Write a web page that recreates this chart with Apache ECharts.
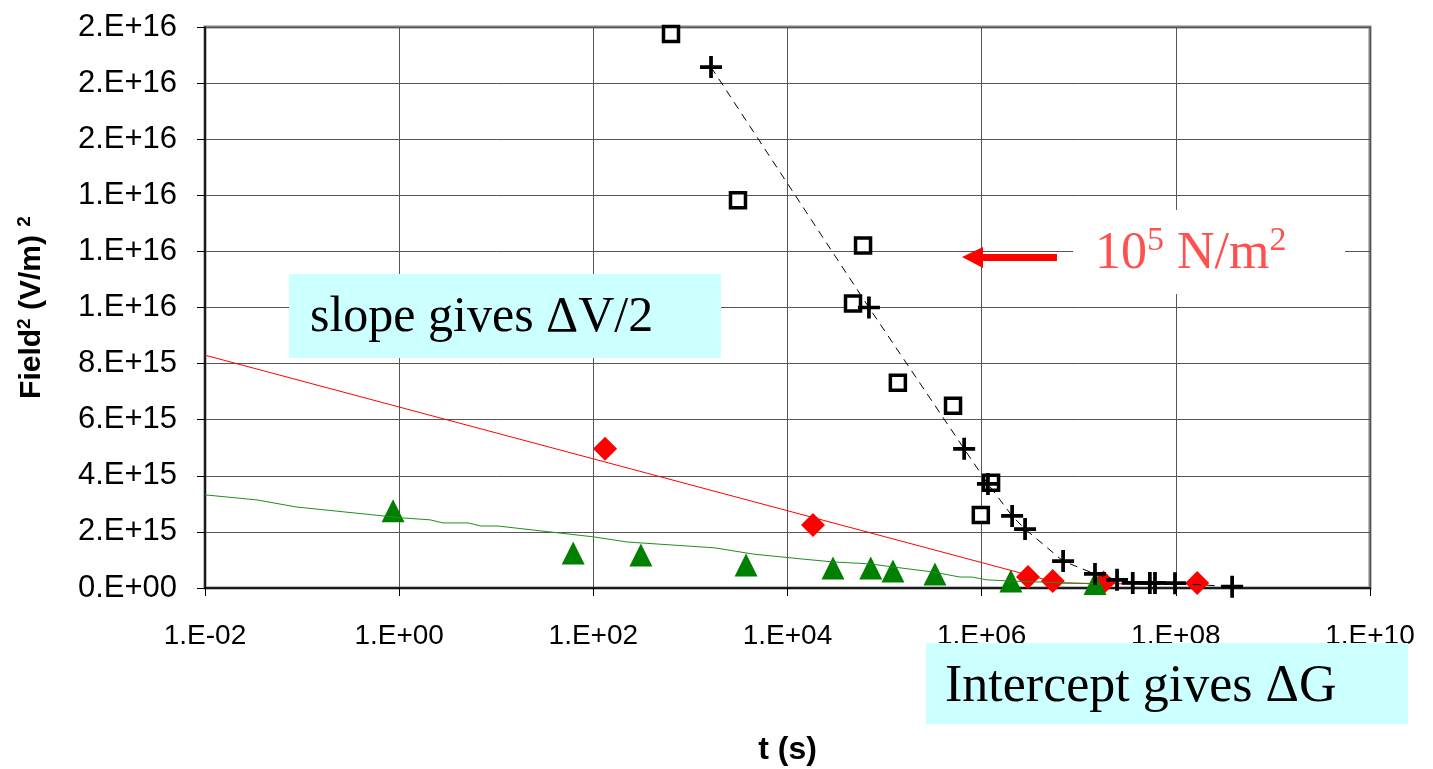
<!DOCTYPE html>
<html><head><meta charset="utf-8">
<script src="https://cdn.jsdelivr.net/npm/echarts@6/dist/echarts.min.js"></script>
<style>html,body{margin:0;padding:0;background:#fff}#c{width:1433px;height:769px}</style>
</head><body><div id="c"></div>
<script>
// ---- data (t in seconds, Field^2 in (V/m)^2) ----
const xTickLabels = ['1.E-02','1.E+00','1.E+02','1.E+04','1.E+06','1.E+08','1.E+10'];
const yTickLabels = ['0.E+00','2.E+15','4.E+15','6.E+15','8.E+15','1.E+16','1.E+16','1.E+16','2.E+16','2.E+16','2.E+16'];

const squareT = [631, 3090, 6.0e4, 4.73e4, 1.37e5, 5.07e5, 1.25e6, 9.8e5];
const squareV = [1.975e16, 1.382e16, 1.221e16, 1.014e16, 7.32e15, 6.5e15, 3.75e15, 2.6e15];

const plusT = [1630, 6.9e4, 6.6e5, 1.16e6, 2.06e6, 2.8e6, 6.9e6, 1.47e7, 2.48e7, 3.6e7, 5.4e7, 6.1e7, 9.8e7, 3.8e8];
const plusV = [1.857e16, 1.0e16, 4.96e15, 3.71e15, 2.57e15, 2.1e15, 9.6e14, 5.0e14, 2.9e14, 1.8e14, 1.8e14, 1.8e14, 1.7e14, 4.6e13];

const diamondT = [132, 1.83e4, 3.0e6, 5.4e6, 1.8e7, 1.66e8];
const diamondV = [4.96e15, 2.25e15, 3.9e14, 2.5e14, 2.0e14, 1.8e14];

const triangleT = [0.865, 62, 309, 3740, 2.94e4, 7.2e4, 1.22e5, 3.3e5, 2.0e6, 1.47e7];
const triangleV = [2.75e15, 1.25e15, 1.18e15, 8.2e14, 7.1e14, 7.1e14, 6.1e14, 5.0e14, 2.5e14, 1.6e14];

const redFitT = [0.01, 6.1e6, 1.0e8];
const redFitV = [8.3e15, 1.8e14, 1.2e14];

const greenFitT = [0.01, 0.0344, 0.0865, 1.07, 2.08, 2.83, 5.12, 6.97, 10.4, 102, 222, 1790, 4410, 1.35e4, 2.94e4, 7.08e4, 1.22e5, 3.16e5, 5.98e5, 7.96e5, 1.14e6, 1.96e6, 1.66e7];
const greenFitV = [3.32e15, 3.14e15, 2.89e15, 2.50e15, 2.43e15, 2.32e15, 2.32e15, 2.21e15, 2.21e15, 1.82e15, 1.64e15, 1.43e15, 1.21e15, 1.04e15, 9.3e14, 8.6e14, 7.5e14, 5.7e14, 3.9e14, 3.9e14, 2.9e14, 2.5e14, 1.4e14];

const zip = (a, b) => a.map((v, i) => [v, b[i]]);
const plusPath = 'path://M8.3,0h3.4v8.3h8.3v3.4h-8.3v8.3h-3.4v-8.3h-8.3v-3.4h8.3z';
const sans = '"Liberation Sans", Arial, sans-serif';
const serif = '"Liberation Serif", "Times New Roman", serif';

const chart = echarts.init(document.getElementById('c'), null, {renderer: 'canvas'});
chart.setOption({
  animation: false,
  backgroundColor: '#fff',
  grid: {left: 205, right: 63, top: 27, bottom: 181, show: true, borderColor: '#808080', borderWidth: 3, backgroundColor: 'transparent', containLabel: false, outerBoundsMode: 'none'},
  xAxis: {
    type: 'log', logBase: 100, min: 0.01, max: 1e10,
    axisLine: {show: true, onZero: false, lineStyle: {color: '#000', width: 1.5}},
    axisTick: {show: true, length: 8, lineStyle: {color: '#000'}},
    minorTick: {show: false}, minorSplitLine: {show: false},
    splitLine: {show: true, lineStyle: {color: '#555', width: 1}},
    axisLabel: {
      margin: 34, fontSize: 28, color: '#000', fontFamily: sans,
      formatter: v => xTickLabels[Math.round((Math.log10(v) + 2) / 2)]
    },
    name: 't (s)', nameLocation: 'middle', nameGap: 146,
    nameTextStyle: {fontSize: 32, fontWeight: 'bold', fontFamily: sans, color: '#000'}
  },
  yAxis: {
    type: 'value', min: 0, max: 2e16, interval: 2e15,
    axisLine: {show: true, onZero: false, lineStyle: {color: '#000', width: 1.5}},
    axisTick: {show: true, length: 8, lineStyle: {color: '#000'}},
    splitLine: {show: true, lineStyle: {color: '#555', width: 1}},
    axisLabel: {
      margin: 28, fontSize: 31, color: '#000', fontFamily: sans,
      formatter: v => yTickLabels[Math.round(v / 2e15)]
    },
    name: 'Field{s|2} (V/m) {s|2}', nameLocation: 'middle', nameGap: 156, nameRotate: 90,
    nameTextStyle: {
      fontSize: 30, fontWeight: 'bold', fontFamily: sans, color: '#000',
      rich: {s: {fontSize: 19, fontWeight: 'bold', fontFamily: sans, color: '#000', verticalAlign: 'top', lineHeight: 34}}
    }
  },
  series: [
    {type: 'line', data: zip(redFitT, redFitV), symbol: 'none', lineStyle: {color: '#ff0000', width: 1}, silent: true},
    {type: 'line', data: zip(greenFitT, greenFitV), symbol: 'none', lineStyle: {color: '#1f8f1f', width: 1}, silent: true},
    {type: 'scatter', data: zip(diamondT, diamondV), symbol: 'diamond', symbolSize: 24, itemStyle: {color: '#ff0000', opacity: 1}},
    {type: 'scatter', data: zip(triangleT, triangleV), symbol: 'triangle', symbolSize: 23, itemStyle: {color: '#008000', opacity: 1}},
    {type: 'scatter', data: zip(squareT, squareV), symbol: 'rect', symbolSize: 15, itemStyle: {color: '#fff', borderColor: '#000', borderWidth: 3.5, opacity: 1}},
    {type: 'line', data: zip(plusT, plusV), symbol: plusPath, symbolSize: 22, showAllSymbol: true,
     itemStyle: {color: '#000', opacity: 1}, lineStyle: {color: '#000', width: 1, type: [8, 6]}}
  ],
  graphic: [
    {type: 'rect', z: 10, shape: {x: 289, y: 274, width: 432, height: 84}, style: {fill: '#ccffff'}},
    {type: 'text', z: 11, style: {text: 'slope gives \u0394V/2', x: 310, y: 318, verticalAlign: 'middle', font: '50px "Liberation Serif", serif', fill: '#000'}},
    {type: 'rect', z: 10, shape: {x: 1073, y: 210, width: 272, height: 84}, style: {fill: '#fff'}},
    {type: 'text', z: 11, style: {
      text: '{a|10}{s|5}{a| N/m}{s|2}', x: 1095, y: 254, verticalAlign: 'middle',
      rich: {
        a: {fontSize: 52, fontFamily: serif, fill: '#ff5050', lineHeight: 60},
        s: {fontSize: 34, fontFamily: serif, fill: '#ff5050', verticalAlign: 'top', lineHeight: 44}
      }
    }},
    {type: 'polygon', z: 11, shape: {points: [[962, 257], [983, 247], [983, 254], [1057, 254], [1057, 261], [983, 261], [983, 268]]}, style: {fill: '#ff0000'}},
    {type: 'rect', z: 10, shape: {x: 926, y: 643, width: 482, height: 81}, style: {fill: '#ccffff'}},
    {type: 'text', z: 11, style: {text: 'Intercept gives \u0394G', x: 945, y: 687, verticalAlign: 'middle', font: '52px "Liberation Serif", serif', fill: '#000'}}
  ]
});
</script></body></html>
